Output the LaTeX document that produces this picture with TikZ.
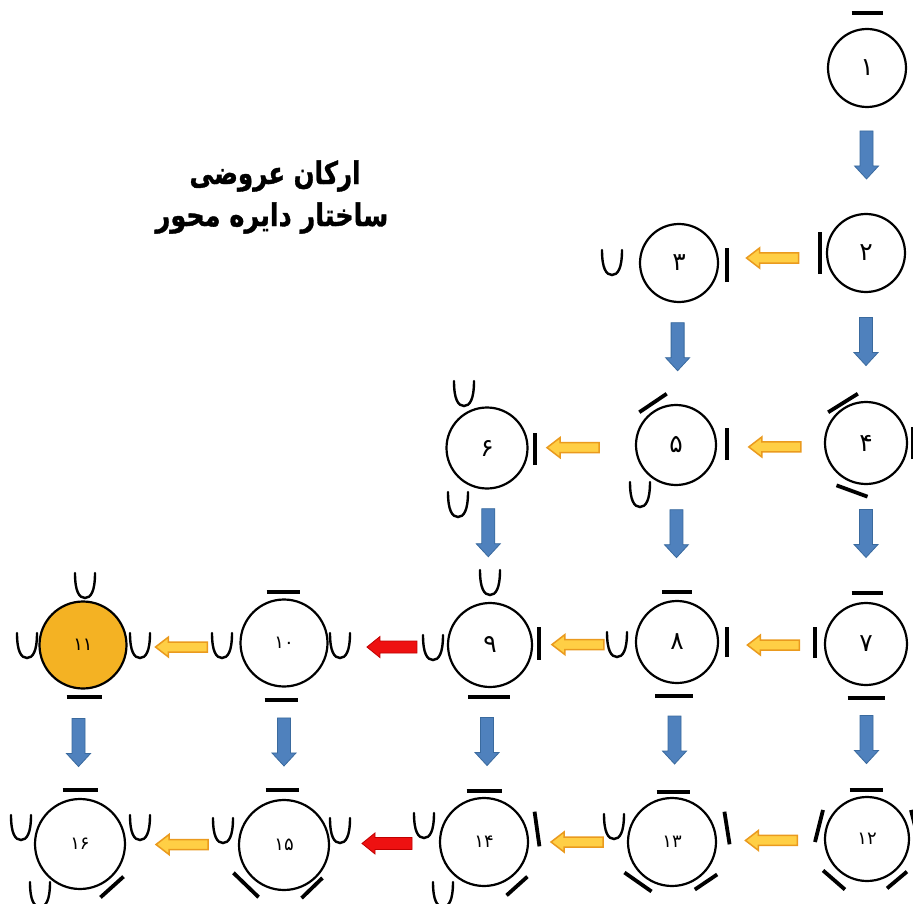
\documentclass[tikz,border=0pt]{standalone}
\usepackage{fontspec}
\usetikzlibrary{calc}
\TeXXeTstate=1
\newfontfamily\arabicfont[Script=Arabic]{DejaVu Sans}
\newfontfamily\titlefont[Script=Arabic,BoldFeatures={FakeBold=1.2}]{DejaVu Sans}
\definecolor{orng}{HTML}{F4B223}
\definecolor{bluef}{HTML}{4F81BD}
\definecolor{blued}{HTML}{3A6A9E}
\definecolor{yelf}{HTML}{FFCF45}
\definecolor{yeld}{HTML}{EA9A1E}
\definecolor{redf}{HTML}{EE1111}
\definecolor{redd}{HTML}{C00000}
\tikzset{
  ring/.style={circle, draw=black, line width=2.2pt, minimum size=#1, inner sep=0pt,
    font=\arabicfont\fontsize{25}{25}\selectfont},
  smallnum/.style={font=\arabicfont\fontsize{18}{18}\selectfont},
  titletext/.style={font=\titlefont\bfseries\fontsize{25}{28}\selectfont, inner sep=0pt},
  umark/.style={draw=black, line width=2.4pt, line cap=round},
  barmark/.style={draw=black, line width=3.8pt},
  bluearrow/.style={fill=bluef, draw=blued, line width=0.8pt},
  yelarrow/.style={fill=yelf, draw=yeld, line width=1.5pt},
  redarrow/.style={fill=redf, draw=redd, line width=0.8pt},
  pics/ushape/.style={code={\draw[umark] (-10,-13) .. controls (-10,5) and (-6,12) .. (0,12) .. controls (6,12) and (10,5) .. (10,-13);}},
  pics/bar/.style={code={\draw[barmark] (-#1/2,0) -- (#1/2,0);}},
  pics/bluedown/.style={code={\path[bluearrow] (-24,-6.5) -- (11,-6.5) -- (11,-12) -- (24,0) -- (11,12) -- (11,6.5) -- (-24,6.5) -- cycle;}},
  pics/yelleft/.style={code={\path[yelarrow] (-26,-5) -- (13,-5) -- (13,-10) -- (26,0) -- (13,10) -- (13,5) -- (-26,5) -- cycle;}},
  pics/redleft/.style={code={\path[redarrow] (-25,-6) -- (12,-6) -- (12,-10.5) -- (25,0) -- (12,10.5) -- (12,6) -- (-25,6) -- cycle;}},
}
\begin{document}
\begin{tikzpicture}[x=1pt,y=-1pt]
\clip (0,0) rectangle (913,904);
\fill[white] (0,0) rectangle (913,904);

% title
\node[titletext] (t1) at (275,176) {\scalebox{0.98}[1.25]{\beginR ارکان عروضی\endR}};
\node[titletext] (t2) at (272,218) {\scalebox{1.02}[1.25]{\beginR ساختار دایره محور\endR}};

% circles
\node[ring=78] (c1) at (867,68) {۱};
\node[ring=78] (c2) at (866,253) {۲};
\node[ring=78] (c3) at (679,263) {۳};
\node[ring=82] (c4) at (866,443) {۴};
\node[ring=80] (c5) at (676,445) {۵};
\node[ring=81] (c6) at (487,448) {۶};
\node[ring=82] (c7) at (866,644) {۷};
\node[ring=82] (c8) at (677,642) {۸};
\node[ring=84] (c9) at (490,645) {۹};
\node[ring=87, smallnum] (c10) at (284,643) {۱۰};
\node[ring=87, smallnum, fill=orng] (c11) at (83,645) {۱۱};
\node[ring=84, smallnum] (c12) at (867,839) {۱۲};
\node[ring=88, smallnum] (c13) at (672,842) {۱۳};
\node[ring=88, smallnum] (c14) at (484,842) {۱۴};
\node[ring=90, smallnum] (c15) at (284,845) {۱۵};
\node[ring=90, smallnum] (c16) at (80,844) {۱۶};

% marks
\pic at ([shift={(0,-55)}]c1.center) {bar=31};
\pic[rotate=90] at ([shift={(-46,0)}]c2.center) {bar=42};
\pic at ([shift={(-67,0)}]c3.center) {ushape};
\pic[rotate=90] at ([shift={(48,2)}]c3.center) {bar=34};
\pic[rotate=32] at ([shift={(-23,-40)}]c4.center) {bar=35};
\pic[rotate=-20] at ([shift={(-14,48)}]c4.center) {bar=33};
\pic[rotate=90] at ([shift={(47,0)}]c4.center) {bar=32};
\pic[rotate=34] at ([shift={(-23,-42)}]c5.center) {bar=33};
\pic[rotate=90] at ([shift={(51,-1)}]c5.center) {bar=32};
\pic at ([shift={(-36,50)}]c5.center) {ushape};
\pic at ([shift={(-23,-54)}]c6.center) {ushape};
\pic at ([shift={(-29,57)}]c6.center) {ushape};
\pic[rotate=90] at ([shift={(48,1)}]c6.center) {bar=32};
\pic at ([shift={(1,-51)}]c7.center) {bar=31};
\pic at ([shift={(0,54)}]c7.center) {bar=37};
\pic[rotate=90] at ([shift={(-51,-2)}]c7.center) {bar=31};
\pic at ([shift={(0,-50)}]c8.center) {bar=30};
\pic at ([shift={(-3,54)}]c8.center) {bar=38};
\pic[rotate=90] at ([shift={(50,0)}]c8.center) {bar=30};
\pic at ([shift={(-60,3)}]c8.center) {ushape};
\pic at ([shift={(0,-62)}]c9.center) {ushape};
\pic at ([shift={(-1,52)}]c9.center) {bar=42};
\pic[rotate=90] at ([shift={(49,-2)}]c9.center) {bar=33};
\pic at ([shift={(-57,3)}]c9.center) {ushape};
\pic at ([shift={(-1,-51)}]c10.center) {bar=33};
\pic at ([shift={(-3,57)}]c10.center) {bar=33};
\pic at ([shift={(-62,3)}]c10.center) {ushape};
\pic at ([shift={(56,3)}]c10.center) {ushape};
\pic at ([shift={(2,-59)}]c11.center) {ushape};
\pic at ([shift={(-56,1)}]c11.center) {ushape};
\pic at ([shift={(57,1)}]c11.center) {ushape};
\pic at ([shift={(1,52)}]c11.center) {bar=35};
\pic at ([shift={(-1,-49)}]c12.center) {bar=33};
\pic[rotate=76] at ([shift={(-48,-13)}]c12.center) {bar=33};
\pic[rotate=-41] at ([shift={(-33,41)}]c12.center) {bar=29};
\pic[rotate=40] at ([shift={(30,41)}]c12.center) {bar=26};
\pic[rotate=-76] at ([shift={(48,-13)}]c12.center) {bar=33};
\pic at ([shift={(1,-50)}]c13.center) {bar=33};
\pic[rotate=-81] at ([shift={(55,-14)}]c13.center) {bar=33};
\pic at ([shift={(-58,-15)}]c13.center) {ushape};
\pic[rotate=-35] at ([shift={(-34,40)}]c13.center) {bar=33};
\pic[rotate=34] at ([shift={(34,40)}]c13.center) {bar=27};
\pic at ([shift={(0,-51)}]c14.center) {bar=35};
\pic[rotate=-82] at ([shift={(53,-13)}]c14.center) {bar=35};
\pic[rotate=42] at ([shift={(33,44)}]c14.center) {bar=28};
\pic at ([shift={(-60,-16)}]c14.center) {ushape};
\pic at ([shift={(-41,53)}]c14.center) {ushape};
\pic at ([shift={(-2,-55)}]c15.center) {bar=33};
\pic at ([shift={(-61,-14)}]c15.center) {ushape};
\pic at ([shift={(56,-14)}]c15.center) {ushape};
\pic[rotate=-44] at ([shift={(-38,40)}]c15.center) {bar=35};
\pic[rotate=44] at ([shift={(28,43)}]c15.center) {bar=29};
\pic at ([shift={(0,-54)}]c16.center) {bar=35};
\pic at ([shift={(-59,-16)}]c16.center) {ushape};
\pic at ([shift={(60,-16)}]c16.center) {ushape};
\pic at ([shift={(-40,51)}]c16.center) {ushape};
\pic[rotate=42] at ([shift={(32,43)}]c16.center) {bar=31};

% vertical (blue) arrows
\pic[rotate=-90] at ($(c1)!0.47!(c2)$) {bluedown};
\pic[rotate=-90] at ($(c2)!0.466!(c4)$) {bluedown};
\pic[rotate=-90] at ($(c3)!0.46!(c5)$) {bluedown};
\pic[rotate=-90] at ($(c6)!0.43!(c9)$) {bluedown};
\pic[rotate=-90] at ($(c5)!0.45!(c8)$) {bluedown};
\pic[rotate=-90] at ($(c4)!0.45!(c7)$) {bluedown};
\pic[rotate=-90] at ($(c11)!0.49!(c16)+(-3,0)$) {bluedown};
\pic[rotate=-90] at ($(c10)!0.49!(c15)$) {bluedown};
\pic[rotate=-90] at ($(c9)!0.49!(c14)$) {bluedown};
\pic[rotate=-90] at ($(c8)!0.49!(c13)$) {bluedown};
\pic[rotate=-90] at ($(c7)!0.49!(c12)$) {bluedown};

% horizontal arrows
\pic[rotate=180] at ($(c2)!0.5!(c3)$) {yelleft};
\pic[rotate=180] at ($(c4)!0.48!(c5)+(0,3)$) {yelleft};
\pic[rotate=180] at ($(c5)!0.545!(c6)+(0,1)$) {yelleft};
\pic[rotate=180] at ($(c7)!0.49!(c8)+(0,2)$) {yelleft};
\pic[rotate=180] at ($(c8)!0.53!(c9)+(0,1)$) {yelleft};
\pic[rotate=180] at ($(c9)!0.476!(c10)+(0,3)$) {redleft};
\pic[rotate=180] at ($(c10)!0.51!(c11)+(0,3)$) {yelleft};
\pic[rotate=180] at ($(c12)!0.49!(c13)$) {yelleft};
\pic[rotate=180] at ($(c13)!0.505!(c14)$) {yelleft};
\pic[rotate=180] at ($(c14)!0.485!(c15)$) {redleft};
\pic[rotate=180] at ($(c15)!0.5!(c16)$) {yelleft};
\end{tikzpicture}
\end{document}
